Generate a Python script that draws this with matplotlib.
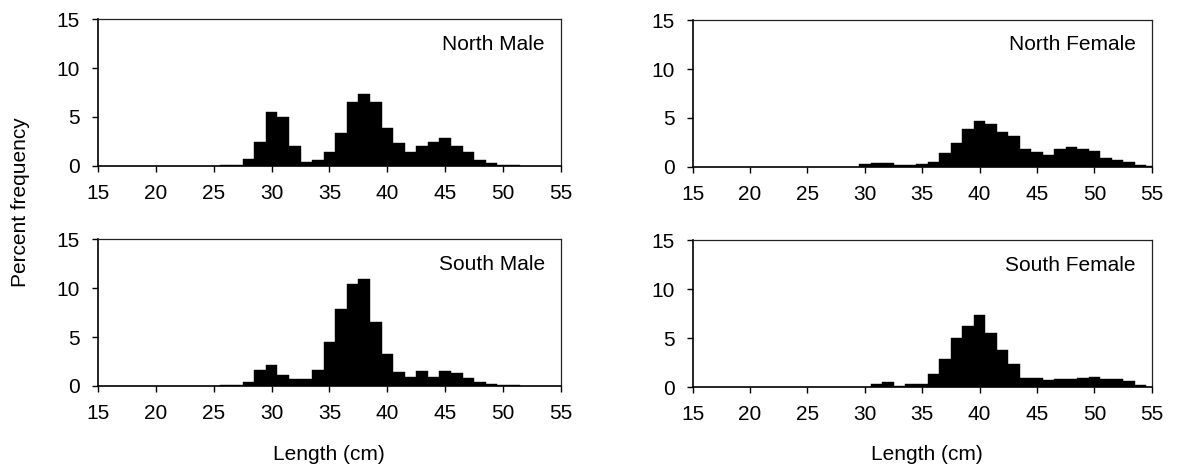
import numpy as np
from matplotlib import pyplot as plt

plt.rcParams['font.family'] = ['Liberation Sans', 'DejaVu Sans']

# length classes (cm), bin centres
nm_len = np.arange(26, 52)
nm_pct = [0.05, 0.1, 0.7, 2.4, 5.55, 5.05, 2.05, 0.4, 0.65, 1.4, 3.35, 6.5, 7.3,
          6.55, 3.9, 2.3, 1.47, 2.0, 2.45, 2.9, 2.0, 1.43, 0.65, 0.35, 0.15, 0.05]

nf_len = np.arange(30, 56)
nf_pct = [0.3, 0.45, 0.4, 0.25, 0.15, 0.3, 0.55, 1.4, 2.45, 3.85, 4.7, 4.35, 3.55,
          3.2, 1.8, 1.5, 1.25, 1.85, 2.0, 1.8, 1.65, 0.95, 0.7, 0.5, 0.25, 0.1]

sm_len = np.arange(26, 52)
sm_pct = [0.05, 0.1, 0.4, 1.6, 2.15, 1.1, 0.75, 0.7, 1.65, 4.5, 7.9, 10.4, 10.95,
          6.5, 3.25, 1.4, 0.95, 1.55, 0.95, 1.5, 1.3, 0.8, 0.4, 0.2, 0.15, 0.1]

sf_len = np.arange(31, 55)
sf_pct = [0.3, 0.5, 0.1, 0.3, 0.35, 1.3, 2.9, 5.0, 6.25, 7.35, 5.5, 3.8, 2.3,
          0.9, 0.95, 0.7, 0.8, 0.85, 0.95, 1.0, 0.8, 0.85, 0.65, 0.25]

panels = [("North Male", nm_len, nm_pct), ("North Female", nf_len, nf_pct),
          ("South Male", sm_len, sm_pct), ("South Female", sf_len, sf_pct)]

xticks = np.arange(15, 56, 5)
yticks = [0, 5, 10, 15]

fig = plt.figure(figsize=(11.78, 4.71), dpi=100)
pos = [[0.0832, 0.6476, 0.393, 0.312], [0.588, 0.6455, 0.3897, 0.312],
       [0.0832, 0.1805, 0.393, 0.312], [0.588, 0.1783, 0.3897, 0.312]]

fs = 15
for (name, x, y), p in zip(panels, pos):
    ax = fig.add_axes(p)
    ax.bar(x, y, width=1.0, color='black', edgecolor='black', linewidth=0.3)
    ax.set_xlim(15, 55)
    ax.set_ylim(0, 15)
    ax.set_xticks(xticks)
    ax.set_yticks(yticks)
    ax.tick_params(direction='out', length=4, width=1, labelsize=fs)
    ax.tick_params(axis='x', pad=9)
    ax.tick_params(axis='y', pad=9)
    for s in ['left', 'bottom']:
        ax.spines[s].set_linewidth(1.2)
    for s in ['top', 'right']:
        ax.spines[s].set_linewidth(0.9)
        ax.spines[s].set_color('#222222')
    ax.text(0.965, 0.83, name, transform=ax.transAxes, ha='right', va='center', fontsize=fs)

fig.text(0.017, 0.57, 'Percent frequency', rotation=90, ha='center', va='center', fontsize=fs)
fig.text(0.279, 0.034, 'Length (cm)', ha='center', va='center', fontsize=fs)
fig.text(0.787, 0.034, 'Length (cm)', ha='center', va='center', fontsize=fs)

plt.savefig('out.png', dpi=100)
